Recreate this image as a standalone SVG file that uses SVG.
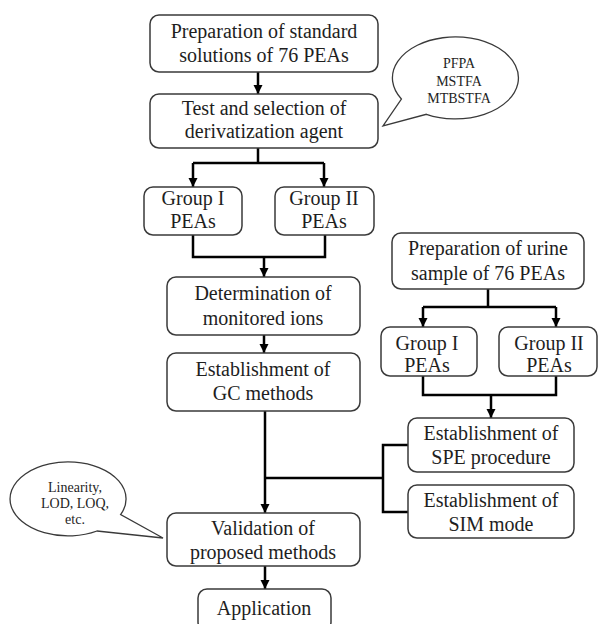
<svg xmlns="http://www.w3.org/2000/svg" width="599" height="624" viewBox="0 0 599 624">
<style>
.box{fill:#fff;stroke:#3a3a3a;stroke-width:1.5}
.t{font-family:"Liberation Serif","Times New Roman",serif;font-size:20px;fill:#1e1e1e;text-anchor:middle}
.s{font-family:"Liberation Serif","Times New Roman",serif;font-size:14px;fill:#1e1e1e;text-anchor:middle}
.c{fill:none;stroke:#000;stroke-width:2.5}
.a{fill:none;stroke:#000;stroke-width:2.5;marker-end:url(#ah)}
.bub{fill:#fff;stroke:#3a3a3a;stroke-width:1.3}
</style>
<defs>
<marker id="ah" markerUnits="userSpaceOnUse" markerWidth="10" markerHeight="10" refX="9" refY="5" orient="auto">
<path d="M0,0.5 L9,5 L0,9.5 Z" fill="#000"/>
</marker>
</defs>
<rect width="599" height="624" fill="#fff"/>
<g id="connectors">
<path class="a" d="M258,72 V94"/>
<path class="c" d="M258,148 V163 M193,163 H324"/>
<path class="a" d="M193,163 V187"/>
<path class="a" d="M324,163 V187"/>
<path class="c" d="M193,235 V257 H325 V235"/>
<path class="a" d="M264,257 V277"/>
<path class="a" d="M264,335 V353"/>
<path class="a" d="M265,411 V513"/>
<path class="a" d="M265,566 V589"/>
<path class="c" d="M488,289 V307 M423,307 H556"/>
<path class="a" d="M423,307 V327"/>
<path class="a" d="M556,307 V327"/>
<path class="c" d="M423,376 V395 H556 V376"/>
<path class="a" d="M491,395 V418"/>
<path class="c" d="M408,445 H383 V512 H408 M265,478 H383"/>
</g>
<g id="n1"><rect class="box" x="150" y="15" width="228" height="57" rx="9"/>
<text class="t" x="264" y="38">Preparation of standard</text><text class="t" x="264" y="62">solutions of 76 PEAs</text></g>
<g id="n2"><rect class="box" x="150" y="94" width="228" height="54" rx="9"/>
<text class="t" x="264" y="115">Test and selection of</text><text class="t" x="264" y="138">derivatization  agent</text></g>
<g id="bubble1"><path class="bub" d="M401.4,99 A63,41 0 1 1 426.4,114.3 L383,126 Z"/>
<text class="s" x="459" y="68">PFPA</text><text class="s" x="459" y="86">MSTFA</text><text class="s" x="459" y="103">MTBSTFA</text></g>
<g id="n3"><rect class="box" x="144" y="187" width="98" height="48" rx="9"/>
<text class="t" x="193" y="205">Group I</text><text class="t" x="193" y="228">PEAs</text></g>
<g id="n4"><rect class="box" x="275" y="187" width="99" height="48" rx="9"/>
<text class="t" x="324" y="205">Group II</text><text class="t" x="324" y="228">PEAs</text></g>
<g id="n5"><rect class="box" x="167" y="277" width="193" height="58" rx="9"/>
<text class="t" x="263" y="300">Determination  of</text><text class="t" x="263" y="325">monitored ions</text></g>
<g id="n6"><rect class="box" x="167" y="353" width="193" height="58" rx="9"/>
<text class="t" x="263" y="376">Establishment  of</text><text class="t" x="263" y="400">GC methods</text></g>
<g id="n7"><rect class="box" x="392" y="233" width="192" height="56" rx="9"/>
<text class="t" x="488" y="255">Preparation of urine</text><text class="t" x="488" y="280">sample of 76 PEAs</text></g>
<g id="n8"><rect class="box" x="381" y="327" width="96" height="49" rx="9"/>
<text class="t" x="427" y="350">Group I</text><text class="t" x="427" y="372">PEAs</text></g>
<g id="n9"><rect class="box" x="499" y="327" width="98" height="49" rx="9"/>
<text class="t" x="549" y="350">Group II</text><text class="t" x="549" y="372">PEAs</text></g>
<g id="n10"><rect class="box" x="408" y="418" width="166" height="54" rx="9"/>
<text class="t" x="491" y="440">Establishment  of</text><text class="t" x="491" y="464">SPE procedure</text></g>
<g id="n11"><rect class="box" x="408" y="485" width="166" height="53" rx="9"/>
<text class="t" x="491" y="507">Establishment  of</text><text class="t" x="491" y="531">SIM mode</text></g>
<g id="n12"><rect class="box" x="167" y="513" width="193" height="53" rx="9"/>
<text class="t" x="263" y="535">Validation  of</text><text class="t" x="263" y="559">proposed methods</text></g>
<g id="bubble2"><path class="bub" d="M97,531 A58,37 0 1 1 120.6,514.6 L163,538 Z"/>
<text class="s" x="75" y="492">Linearity,</text><text class="s" x="75" y="508">LOD,  LOQ,</text><text class="s" x="75" y="524">etc.</text></g>
<g id="n13"><rect class="box" x="198" y="589" width="133" height="42" rx="9"/>
<text class="t" x="264" y="615">Application</text></g>
</svg>
